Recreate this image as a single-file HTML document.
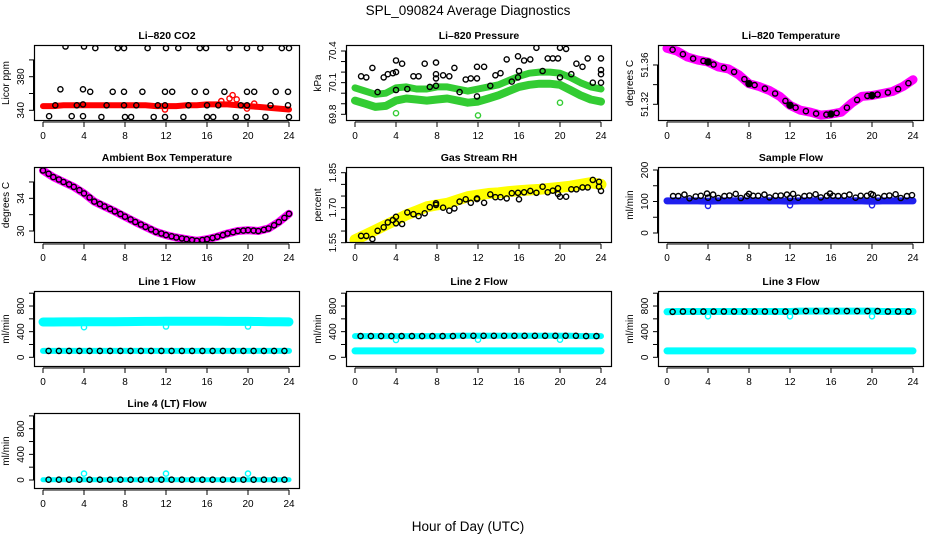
<!DOCTYPE html>
<html><head><meta charset="utf-8">
<style>
html,body{margin:0;padding:0;background:#fff;}
svg{display:block;font-family:"Liberation Sans",Arial,sans-serif;}
</style></head>
<body>
<svg id="chart" width="936" height="540" viewBox="0 0 936 540" xmlns="http://www.w3.org/2000/svg">
<text x="468" y="15" text-anchor="middle" font-size="13.5">SPL_090824  Average Diagnostics</text>
<text x="468" y="531" text-anchor="middle" font-size="13.5">Hour of Day (UTC)</text>
</svg>
<script>
// ---------- data ----------
const hours = [0,1,2,3,4,5,6,7,8,9,10,11,12,13,14,15,16,17,18,19,20,21,22,23,24];
// CO2
const co2Band = [345,345,346,346,346,346,346,346,346,346,346,345,345,345,346,346,347,347,347,346,345,344,343,342,341];
const co2HighX = [2.2,4.0,5.1,7.3,7.9,10.2,12.0,13.2,15.3,15.9,18.2,19.9,21.2,23.3,24.0];
const co2HighY = [416,416,414,414,414,414,414,414,414,414,414,414,414,414,414];
const co2MidX = [1.7,3.9,4.6,6.8,7.9,9.7,11.9,12.6,14.8,15.9,17.7,19.9,20.6,22.7,23.9];
const co2MidY = [365,365,362,362,362,362,362,362,362,362,362,362,362,362,362];
const co2LowX = [0.6,2.8,3.9,5.7,8.0,8.6,10.8,11.9,13.7,16.0,16.6,18.8,19.9,21.7,24.0];
const co2LowY = [333,333,333,332,332,332,332,332,332,332,332,332,332,332,332];
const co2InX = [1.2,3.3,3.9,6.2,7.9,9.1,11.2,11.9,14.2,16.0,17.1,19.3,19.9,22.2,23.9];
const co2InY = [346,346,347,346,346,346,346,346,346,346,346,346,346,346,346];
const co2RedX = [11.9,17.4,18.2,18.5,18.9,19.9,20.6];
const co2RedY = [341,351,354,358,353,342,348];
// Pressure
const presUpper = [70.05,70.02,69.99,70.00,70.05,70.06,70.04,70.04,70.06,70.06,70.04,70.02,70.04,70.06,70.08,70.12,70.16,70.19,70.20,70.20,70.19,70.15,70.10,70.06,70.04];
const presLower = [69.93,69.90,69.87,69.88,69.93,69.95,69.94,69.93,69.94,69.95,69.93,69.91,69.92,69.95,69.98,70.02,70.06,70.08,70.09,70.09,70.08,70.03,69.98,69.94,69.92];
const presBlackX = [0.6,1.1,1.7,2.2,2.8,3.2,3.7,4.0,4.0,4.0,4.6,5.1,5.7,6.2,6.8,7.3,7.9,7.9,7.9,7.9,8.6,9.2,9.7,10.2,10.8,11.3,11.9,11.9,11.9,12.6,13.2,13.7,14.2,14.8,15.3,15.9,15.9,16.0,16.5,17.1,17.7,18.3,18.8,19.3,19.8,20.0,20.0,20.6,21.1,21.6,22.2,22.7,23.2,24.0,24.0,24.0,24.0];
const presBlackY = [70.16,70.15,70.24,70.01,70.15,70.18,70.19,70.31,70.20,70.03,70.28,70.04,70.16,70.16,70.28,70.06,70.07,70.29,70.18,70.14,70.17,70.16,70.24,70.01,70.13,70.14,70.14,69.97,70.25,70.25,70.07,70.17,70.19,70.32,70.11,70.35,70.15,70.21,70.31,70.32,70.43,70.21,70.33,70.33,70.33,70.43,70.15,70.42,70.18,70.28,70.25,70.33,70.10,70.10,70.33,70.22,70.18];
const presGreenX = [4.0,12.0,20.0];
const presGreenY = [69.81,69.79,69.91];
// Li-820 temperature
const liTemp = [51.377,51.374,51.368,51.365,51.363,51.358,51.356,51.350,51.341,51.338,51.334,51.328,51.319,51.314,51.312,51.309,51.310,51.312,51.321,51.328,51.329,51.331,51.333,51.338,51.345];
// Ambient box temperature
const ambTemp = [37.4,36.6,36.0,35.4,34.6,33.6,33.0,32.4,31.75,31.1,30.5,29.9,29.5,29.2,29.0,28.8,29.0,29.3,29.7,30.0,30.1,30.0,30.3,31.1,32.1];
// RH
const rhBand = [1.562,1.583,1.604,1.626,1.647,1.669,1.686,1.704,1.712,1.719,1.733,1.747,1.754,1.761,1.764,1.769,1.773,1.776,1.779,1.783,1.787,1.792,1.800,1.807,1.800];
const rhBlackX = [0.6,1.1,1.7,2.2,2.8,3.2,3.7,4.0,4.0,4.6,5.1,5.7,6.2,6.8,7.3,7.9,7.9,8.6,9.2,9.7,10.2,10.8,11.3,11.9,11.9,12.6,13.2,13.7,14.2,14.8,15.3,15.9,16.0,16.5,17.1,17.7,18.3,18.8,19.3,19.8,19.8,20.0,20.6,21.1,21.6,22.2,22.7,23.2,23.8,23.8,24.0];
const rhBlackY = [1.579,1.579,1.566,1.601,1.616,1.637,1.647,1.661,1.633,1.630,1.680,1.672,1.664,1.676,1.702,1.719,1.712,1.700,1.687,1.697,1.726,1.736,1.721,1.740,1.737,1.721,1.757,1.745,1.745,1.740,1.762,1.764,1.736,1.766,1.772,1.764,1.790,1.766,1.773,1.783,1.759,1.747,1.747,1.779,1.779,1.787,1.787,1.819,1.811,1.790,1.772];
// Sample flow
const sfBlue = [102,102,102,102,101,102,102,102,102,102,102,102,101,102,102,102,102,102,102,102,101,102,102,102,102];
const sfBlackX = [0.6,1.1,1.7,2.2,2.8,3.3,3.9,4.0,4.5,5.0,5.6,6.1,6.7,7.2,7.8,8.0,8.4,8.9,9.5,10.0,10.6,11.1,11.7,12.0,12.3,12.8,13.4,13.9,14.5,15.0,15.6,15.9,16.2,16.7,17.3,17.8,18.4,18.9,19.5,19.9,20.1,20.6,21.2,21.7,22.3,22.8,23.4,23.9];
const sfBlackY = [117,117,122,110,116,118,125,112,122,111,117,119,124,111,117,124,118,118,122,113,118,119,122,111,124,112,117,119,123,113,118,125,118,117,118,122,112,118,118,124,121,112,117,119,123,111,117,120];
const sfBlueDipX = [4.0,12.0,20.0];
const sfBlueDipY = [86,88,88];
// Line flows
const l1Cyan = [550,550,552,553,555,555,556,556,557,558,560,560,562,562,563,562,562,562,560,560,560,558,556,555,553];
const l1Black = [100,100,100,100,100,100,100,100,100,100,100,100,100,100,100,100,100,100,100,100,100,100,100,100,100];
const l1CyanLow = [100,100,100,100,100,100,100,100,100,100,100,100,100,100,100,100,100,100,100,100,100,100,100,100,100];
const l2Black = [330,330,330,330,330,330,330,330,330,330,335,335,335,335,335,335,335,335,335,335,335,335,330,330,330];
const l2Cyan = [100,100,100,100,100,100,100,100,100,100,100,100,100,100,100,100,100,100,100,100,100,100,100,100,100];
const l3Black = [710,715,715,715,715,715,715,715,715,715,715,715,715,720,720,720,720,720,720,720,720,715,715,715,715];
const l3Cyan = [100,100,100,100,100,100,100,100,100,100,100,100,100,100,100,100,100,100,100,100,100,100,100,100,100];
const l4Black = [5,5,5,5,5,5,5,5,5,5,5,5,5,5,5,5,5,5,5,5,5,5,5,5,5];
const l4SpikeX = [4.0,12.0,20.0];
const l4SpikeY = [100,100,100];
const flowDipX = [4.0,12.0,20.0];

// ---------- drawing ----------
const NS = "http://www.w3.org/2000/svg";
const svg = document.getElementById('chart');
const rowTops = [45,167,291,413];
function mk(tag, attrs, parent){
  const e = document.createElementNS(NS, tag);
  for (const k in attrs) e.setAttribute(k, attrs[k]);
  (parent||svg).appendChild(e);
  return e;
}
function panel(name, title, ytitle, col, row, y0val, y0px, ppu, ticks, labels){
  const g = mk('g', {});
  
  
  const L = 34 + 312*col, T = rowTops[row], W = 266, H = 76;
  const xs = h => L + 9 + h*10.25;
  const ys = v => y0px - (v - y0val)*ppu;
  const clip = 'clip-' + name;
  const cp = mk('clipPath', {id: clip}, g);
  mk('rect', {x: L, y: T, width: W, height: H}, cp);
  const plot = mk('g', {'clip-path': 'url(#' + clip + ')'}, g);
  
  
  const t = mk('text', {x: L + W/2, y: T - 6, 'text-anchor': 'middle', 'font-size': '10.5', 'font-weight': 'bold'}, g);
  
  
  t.textContent = title;
  const yt = mk('text', {transform: 'translate(' + (L-25) + ',' + (T+H/2) + ') rotate(-90)', 'text-anchor': 'middle', 'font-size': '10'}, g);
  
  
  yt.textContent = ytitle;
  // y axis
  ticks.forEach((v, i) => {
    const y = ys(v);
    mk('line', {x1: L-5, x2: L, y1: y, y2: y, stroke: '#000', 'stroke-width': 1}, g);
    if (labels[i]) {
      const tl = mk('text', {transform: 'translate(' + (L-10) + ',' + y + ') rotate(-90)', 'text-anchor': 'middle', 'font-size': '10'}, g);
      
      
      tl.textContent = labels[i];
    }
  });
  mk('line', {x1: L-0.5, x2: L-0.5, y1: ys(ticks[0]), y2: ys(ticks[ticks.length-1]), stroke: '#000'}, g);
  // x axis
  const xb = T + H + 1;
  mk('line', {x1: xs(0), x2: xs(24), y1: xb, y2: xb, stroke: '#000'}, g);
  for (let h = 0; h <= 24; h += 4) {
    mk('line', {x1: xs(h), x2: xs(h), y1: xb, y2: xb+5, stroke: '#000'}, g);
    const xl = mk('text', {x: xs(h), y: xb + 17, 'text-anchor': 'middle', 'font-size': '10'}, g);
    
    
    xl.textContent = String(h);
  }
  mk('rect', {x: L+0.5, y: T+0.5, width: W-1, height: H-1, fill: 'none', stroke: '#000', 'stroke-width': 1.2}, g);
  return {plot, xs, ys};
}
function band(p, name, xsArr, ysArr, color, width){
  const pts = xsArr.map((x, i) => p.xs(x).toFixed(1) + ',' + p.ys(ysArr[i]).toFixed(1)).join(' ');
  const e = mk('polyline', {points: pts, fill: 'none', stroke: color, 'stroke-width': width, 'stroke-linecap': 'round', 'stroke-linejoin': 'round'}, p.plot);
  
  
}
function pts(p, name, xsArr, ysArr, color, r, filled){
  xsArr.forEach((x, i) => {
    const c = mk('circle', {cx: p.xs(x).toFixed(1), cy: p.ys(ysArr[i]).toFixed(1), r: r || 2.6, fill: filled ? color : 'none', stroke: color, 'stroke-width': 1.4}, p.plot);
    
    
  });
}
const halfH = hours.slice(0,24).map(h => h + 0.55);
const mid = arr => arr.slice(0,24).map((v, i) => (v + arr[i+1]) / 2);

// Panel 1: CO2
let p = panel('co2', 'Li\u2013820 CO2', 'Licor ppm', 0, 0, 340, 110.3, 0.84, [340,360,380,400], ['340','','380','']);
band(p, 'co2-red-band', hours, co2Band, '#ff0000', 6);
pts(p, 'co2-red-point', co2RedX, co2RedY, '#ff0000');
pts(p, 'co2-point-high', co2HighX, co2HighY, '#000');
pts(p, 'co2-point-mid', co2MidX, co2MidY, '#000');
pts(p, 'co2-point-low', co2LowX, co2LowY, '#000');
pts(p, 'co2-point-in-band', co2InX, co2InY, '#000');

// Panel 2: Pressure
p = panel('pressure', 'Li\u2013820 Pressure', 'kPa', 1, 0, 69.8, 114.3, 105.5, [69.8,69.9,70.0,70.1,70.2,70.3,70.4], ['69.8','','','70.1','','','70.4']);
band(p, 'pressure-upper-band', hours, presUpper, '#33cc33', 7);
band(p, 'pressure-lower-band', hours, presLower, '#33cc33', 8);
pts(p, 'pressure-green-outlier', presGreenX, presGreenY, '#33cc33');
pts(p, 'pressure-black-point', presBlackX, presBlackY, '#000');

// Panel 3: Li-820 temperature
p = panel('li-temp', 'Li\u2013820 Temperature', 'degrees C', 2, 0, 51.32, 104.3, 983, [51.32,51.34,51.36], ['51.32','','51.36']);
band(p, 'li-temp-magenta-band', hours, liTemp, '#ff00ff', 9);
pts(p, 'li-temp-black-point', halfH, mid(liTemp), '#000');
pts(p, 'li-temp-black-filled', [4,8,12,16,20], [liTemp[4],liTemp[8],liTemp[12],liTemp[16],liTemp[20]], '#000', 3, true);

// Panel 4: Ambient box temperature
p = panel('ambient-temp', 'Ambient Box Temperature', 'degrees C', 0, 1, 30, 231, 8.17, [30,32,34,36], ['30','','34','']);
band(p, 'ambient-magenta-band', hours, ambTemp, '#ff00ff', 8);
pts(p, 'ambient-black-point', halfH, mid(ambTemp), '#000');
pts(p, 'ambient-black-point-hourly', hours, ambTemp, '#000');

// Panel 5: Gas stream RH
p = panel('rh', 'Gas Stream RH', 'percent', 1, 1, 1.55, 242.7, 233.3, [1.55,1.60,1.65,1.70,1.75,1.80,1.85], ['1.55','','','1.70','','','1.85']);
band(p, 'rh-yellow-band', hours, rhBand, '#ffff00', 11);
pts(p, 'rh-black-point', rhBlackX, rhBlackY, '#000');

// Panel 6: Sample flow
p = panel('sample-flow', 'Sample Flow', 'ml/min', 2, 1, 0, 233, 0.315, [0,50,100,150,200], ['0','','100','','200']);
band(p, 'sample-flow-blue-band', hours, sfBlue, '#1f1fee', 7);
pts(p, 'sample-flow-blue-dip', sfBlueDipX, sfBlueDipY, '#1f1fee');
pts(p, 'sample-flow-black-point', sfBlackX, sfBlackY, '#000');

const fT = [0,200,400,600,800,1000], fL = ['0','','400','','800',''];
// Panel 7: Line 1
p = panel('line1-flow', 'Line 1 Flow', 'ml/min', 0, 2, 0, 357.3, 0.0641, fT, fL);
band(p, 'line1-cyan-band', hours, l1Cyan, '#00ffff', 9);
pts(p, 'line1-cyan-dip', flowDipX, [470,480,480], '#00ffff');
band(p, 'line1-cyan-low-band', hours, l1CyanLow, '#00ffff', 6);
pts(p, 'line1-black-point', halfH, l1Black.slice(0,24), '#000');
// Panel 8: Line 2
p = panel('line2-flow', 'Line 2 Flow', 'ml/min', 1, 2, 0, 357.3, 0.0641, fT, fL);
band(p, 'line2-cyan-band', hours, l2Cyan, '#00ffff', 7);
band(p, 'line2-cyan-high-band', hours, l2Black, '#00ffff', 6);
pts(p, 'line2-cyan-dip', flowDipX, [270,275,275], '#00ffff');
pts(p, 'line2-black-point', halfH, l2Black.slice(0,24), '#000');
// Panel 9: Line 3
p = panel('line3-flow', 'Line 3 Flow', 'ml/min', 2, 2, 0, 357.3, 0.0641, fT, fL);
band(p, 'line3-cyan-band', hours, l3Cyan, '#00ffff', 7);
band(p, 'line3-cyan-high-band', hours, l3Black, '#00ffff', 7);
pts(p, 'line3-cyan-dip', flowDipX, [640,640,640], '#00ffff');
pts(p, 'line3-black-point', halfH, l3Black.slice(0,24), '#000');
// Panel 10: Line 4
p = panel('line4-flow', 'Line 4 (LT) Flow', 'ml/min', 0, 3, 0, 480, 0.0641, fT, fL);
band(p, 'line4-cyan-band', hours, l4Black, '#00ffff', 5);
pts(p, 'line4-cyan-spike', l4SpikeX, l4SpikeY, '#00ffff');
pts(p, 'line4-black-point', halfH, l4Black.slice(0,24), '#000');
</script>
</body></html>
